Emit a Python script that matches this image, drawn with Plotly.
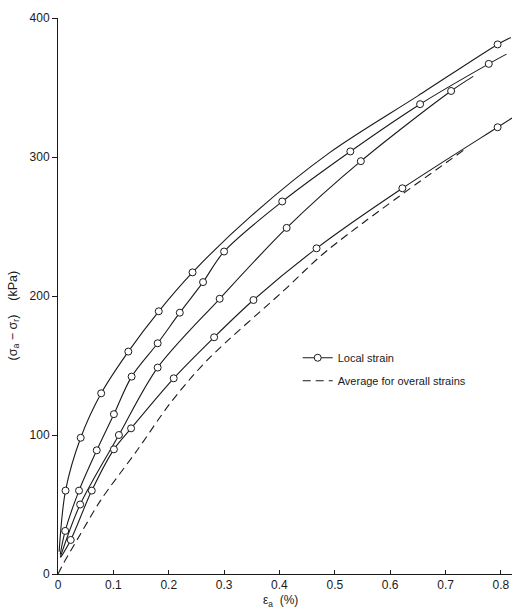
import plotly.graph_objects as go

# ---- data ----
# Local-strain curves: circle points
a_x = [0.0136, 0.041, 0.078, 0.127, 0.182, 0.243, 0.794]
a_y = [60, 98, 130, 160, 189, 217, 381]
b_x = [0.013, 0.038, 0.070, 0.101, 0.133, 0.180, 0.220, 0.262, 0.300, 0.405, 0.528, 0.654, 0.778]
b_y = [31, 60, 89, 115, 142, 166, 188, 210, 232, 268, 304, 338, 367]
c_x = [0.040, 0.110, 0.180, 0.292, 0.413, 0.547, 0.710]
c_y = [50, 100, 148.5, 198, 249, 297, 347.5]
d_x = [0.023, 0.061, 0.101, 0.132, 0.209, 0.282, 0.353, 0.467, 0.622, 0.794]
d_y = [24.5, 60, 89.7, 104.8, 140.8, 170.3, 197.1, 234.3, 277.5, 321.4]

# Additional points along the drawn curves (no symbol)
a_extra_x = [0.002, 0.35, 0.49, 0.65, 0.818]
a_extra_y = [16, 258, 303, 344, 386]
b_extra_x = [0.004, 0.81]
b_extra_y = [14, 374]
c_extra_x = [0.004, 0.75]
c_extra_y = [12, 358]
d_extra_x = [0.005, 0.82]
d_extra_y = [12, 328]

# Average for overall strains (dashed)
avg_x = [0, 0.0105, 0.041, 0.077, 0.143, 0.203, 0.270, 0.408, 0.487, 0.733]
avg_y = [0, 8, 29, 53, 89, 123, 154, 204, 233, 305]

x_ticks = [0, 0.1, 0.2, 0.3, 0.4, 0.5, 0.6, 0.7, 0.8]
x_ticklabels = ["0", "0.1", "0.2", "0.3", "0.4", "0.5", "0.6", "0.7", "0.8"]
y_ticks = [0, 100, 200, 300, 400]
y_ticklabels = ["0", "100", "200", "300", "400"]

FONT = "Liberation Sans"
INK = "#1a1a1a"

fig = go.Figure()


def merged(px, py, ex, ey):
    pts = sorted(zip(list(px) + list(ex), list(py) + list(ey)))
    return [p[0] for p in pts], [p[1] for p in pts]


for px, py, ex, ey in [(a_x, a_y, a_extra_x, a_extra_y),
                       (b_x, b_y, b_extra_x, b_extra_y),
                       (c_x, c_y, c_extra_x, c_extra_y),
                       (d_x, d_y, d_extra_x, d_extra_y)]:
    lx, ly = merged(px, py, ex, ey)
    fig.add_trace(go.Scatter(x=lx, y=ly, mode="lines",
                             line=dict(color=INK, width=1.1, shape="spline", smoothing=0.9),
                             showlegend=False, hoverinfo="skip"))
    fig.add_trace(go.Scatter(x=px, y=py, mode="markers",
                             marker=dict(symbol="circle", size=7, color="white",
                                         line=dict(color=INK, width=1)),
                             showlegend=False))

fig.add_trace(go.Scatter(x=avg_x, y=avg_y, mode="lines",
                         line=dict(color=INK, width=1.1, dash="8px,5px", shape="spline", smoothing=0.9),
                         showlegend=False, hoverinfo="skip"))

# legend entries
fig.add_trace(go.Scatter(x=[None], y=[None], mode="lines+markers", name="Local strain",
                         line=dict(color=INK, width=1.1),
                         marker=dict(symbol="circle", size=7, color="white",
                                     line=dict(color=INK, width=1)),
                         legendgroup="g1"))
fig.add_trace(go.Scatter(x=[None], y=[None], mode="lines", name="Average for overall strains",
                         line=dict(color=INK, width=1.1, dash="8px,5px"),
                         legendgroup="g2"))

fig.update_layout(
    width=512, height=609,
    margin=dict(l=58, r=0, t=18, b=35),
    paper_bgcolor="white", plot_bgcolor="white",
    font=dict(family=FONT, size=11, color=INK),
    legend=dict(x=0.528, y=0.415, xanchor="left", yanchor="top",
                bgcolor="rgba(0,0,0,0)", font=dict(size=11),
                tracegroupgap=4, itemwidth=30),
    showlegend=True,
    xaxis=dict(range=[0, 0.82], tickvals=x_ticks, ticktext=x_ticklabels,
               showgrid=False, zeroline=False, showline=True, linecolor=INK, linewidth=1,
               ticks="inside", ticklen=4, tickcolor=INK, tickfont=dict(size=12)),
    yaxis=dict(range=[0, 400], tickvals=y_ticks, ticktext=y_ticklabels,
               showgrid=False, zeroline=False, showline=True, linecolor=INK, linewidth=1,
               ticks="outside", ticklen=5, tickcolor=INK, tickfont=dict(size=12)),
    annotations=[
        dict(text="(σ<sub>a</sub> − σ<sub>r</sub>)    (kPa)", xref="paper", yref="paper",
             x=-0.097, y=0.465, textangle=-90, showarrow=False,
             font=dict(size=12.5, color=INK), xanchor="center", yanchor="middle"),
        dict(text="ε<sub>a</sub>  (%)", xref="paper", yref="paper",
             x=0.489, y=-0.049, showarrow=False,
             font=dict(size=12, color=INK), xanchor="center", yanchor="middle"),
    ],
)

fig.write_html(
    "out.html",
    config={"displayModeBar": False},
    post_script="document.body.style.margin='0';document.body.style.overflow='hidden';"
                "document.documentElement.style.overflow='hidden';",
)
